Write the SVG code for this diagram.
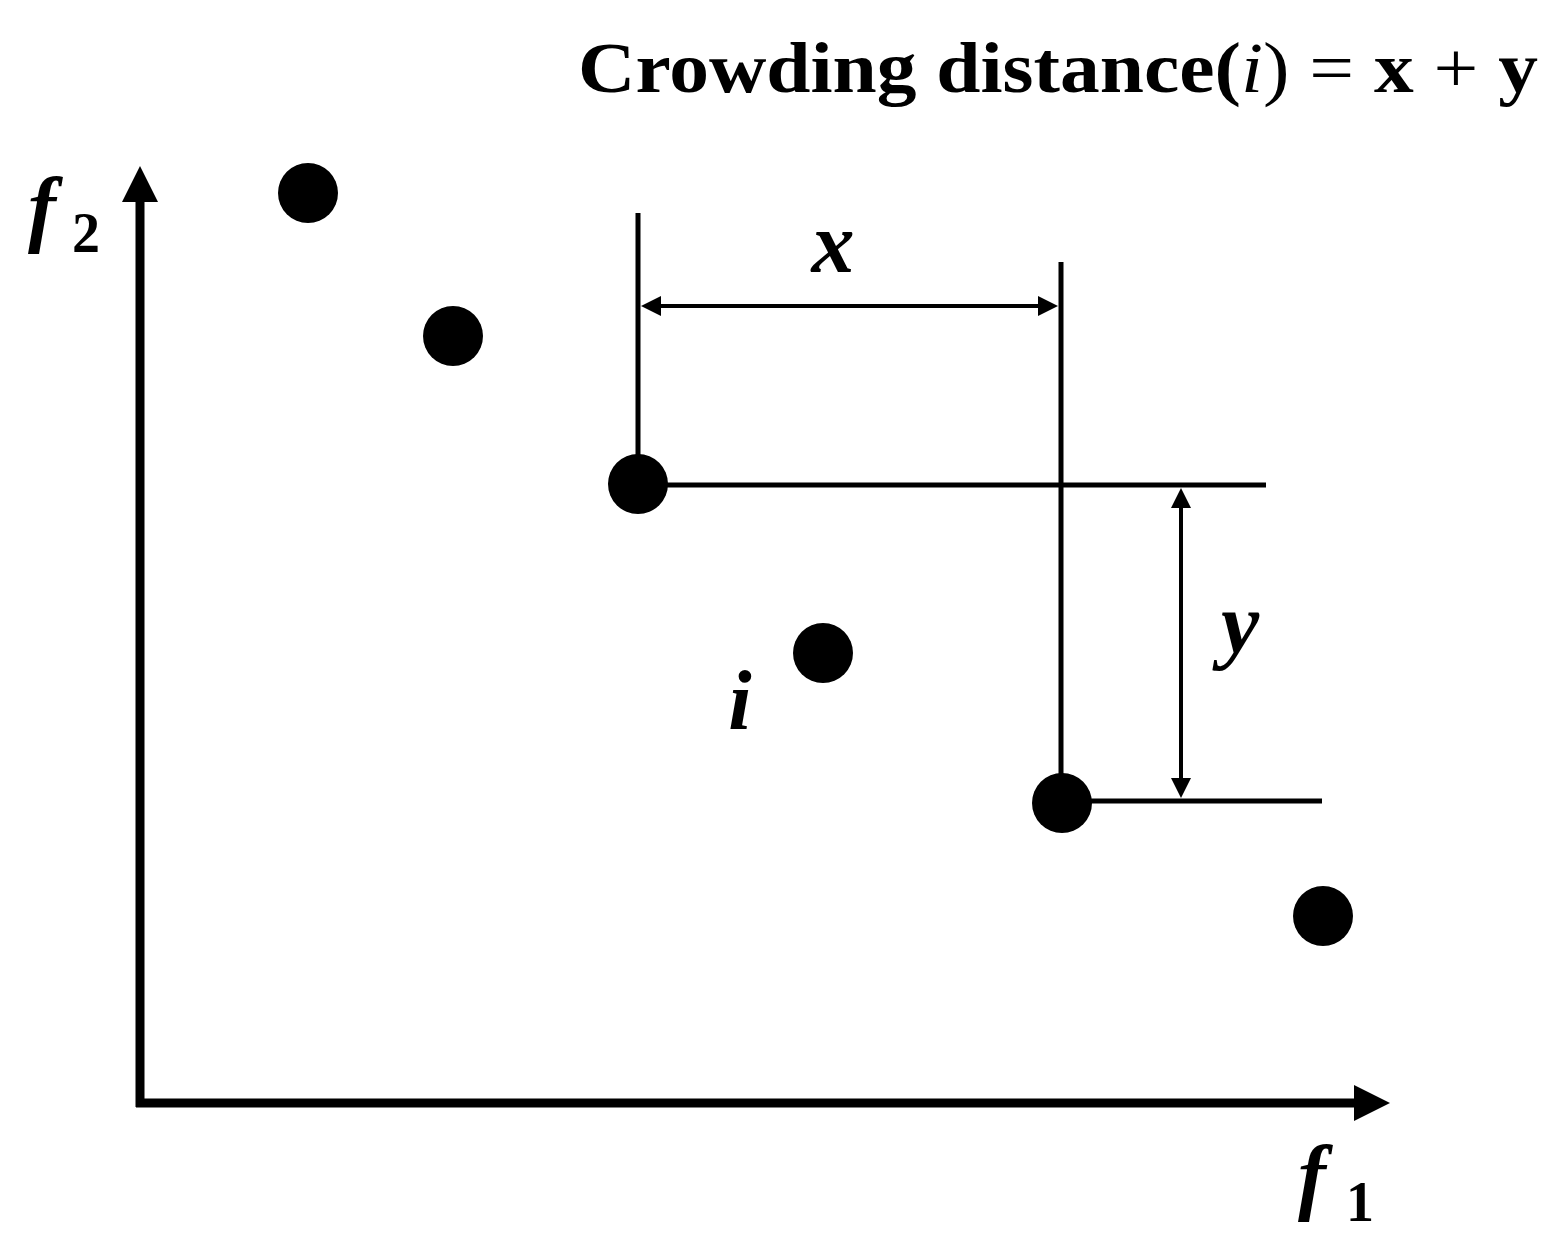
<svg xmlns="http://www.w3.org/2000/svg" width="1563" height="1258" viewBox="0 0 1563 1258">
<style>
.axis{stroke:#000;stroke-width:9;fill:none}
.guide{stroke:#000;stroke-width:5;fill:none}
.dim{stroke:#000;stroke-width:4;fill:none}
.dot{fill:#000}
.lbl{font-family:"Liberation Serif",serif;font-style:italic;font-weight:bold;fill:#000}
.title{font-family:"Liberation Serif",serif;font-weight:bold;fill:#000}
</style>
<defs>
<marker id="axh" viewBox="0 0 10 10" refX="0" refY="5" markerWidth="4" markerHeight="4" orient="auto" markerUnits="strokeWidth">
<path d="M0,0 L10,5 L0,10 z" fill="#000"/>
</marker>
<marker id="dimh" viewBox="0 0 10 10" refX="0" refY="5" markerWidth="5" markerHeight="6" orient="auto-start-reverse" markerUnits="strokeWidth">
<path d="M0,0 L10,5 L0,10 z" fill="#000"/>
</marker>
</defs>
<g id="title">
<text class="title" x="578" y="92" font-size="72" textLength="960" lengthAdjust="spacingAndGlyphs">Crowding distance(<tspan font-style="italic" font-weight="normal">i</tspan><tspan font-weight="normal">) = </tspan>x<tspan font-weight="normal"> + </tspan>y</text>
</g>
<g id="connectors">
<line class="axis" x1="140" y1="1107" x2="140" y2="202" marker-end="url(#axh)"/>
<line class="axis" x1="136" y1="1103" x2="1354" y2="1103" marker-end="url(#axh)"/>
<line class="guide" x1="638" y1="213" x2="638" y2="484"/>
<line class="guide" x1="1061" y1="262" x2="1061" y2="803"/>
<line class="guide" x1="638" y1="485" x2="1266" y2="485"/>
<line class="guide" x1="1062" y1="801" x2="1322" y2="801"/>
<line class="dim" x1="661" y1="306" x2="1038" y2="306" marker-start="url(#dimh)" marker-end="url(#dimh)"/>
<line class="dim" x1="1181" y1="508" x2="1181" y2="778" marker-start="url(#dimh)" marker-end="url(#dimh)"/>
</g>
<g id="p1"><circle class="dot" cx="308" cy="193" r="30"/></g>
<g id="p2"><circle class="dot" cx="453" cy="336" r="30"/></g>
<g id="p3"><circle class="dot" cx="638" cy="484" r="30"/></g>
<g id="pi"><circle class="dot" cx="823" cy="653" r="30"/></g>
<g id="p5"><circle class="dot" cx="1062" cy="803" r="30"/></g>
<g id="p6"><circle class="dot" cx="1323" cy="916" r="30"/></g>
<g id="labels">
<text class="lbl" x="28" y="236" font-size="84">f<tspan font-style="normal" font-size="56" dx="16" dy="16">2</tspan></text>
<text class="lbl" x="1298" y="1204" font-size="84">f<tspan font-style="normal" font-size="56" dx="20" dy="17">1</tspan></text>
<text class="lbl" x="833" y="272" font-size="86" text-anchor="middle">x</text>
<text class="lbl" x="1240" y="652" font-size="86" text-anchor="middle">y</text>
<text class="lbl" x="740" y="729" font-size="84" text-anchor="middle">i</text>
</g>
</svg>
